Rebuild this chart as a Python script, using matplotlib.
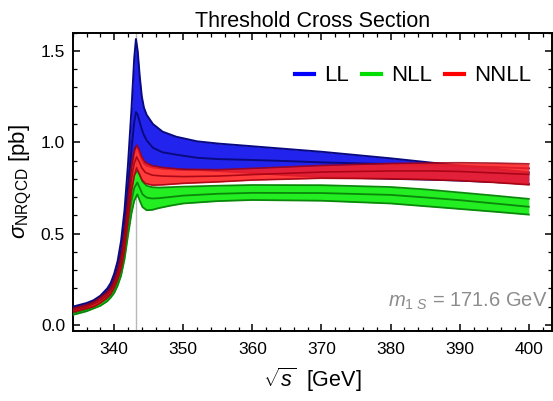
import matplotlib
matplotlib.use("Agg")
import matplotlib.pyplot as plt
from matplotlib.ticker import MultipleLocator, FormatStrFormatter

plt.rcParams['font.family'] = ['Liberation Sans', 'DejaVu Sans']
plt.rcParams['mathtext.fontset'] = 'custom'
plt.rcParams['mathtext.rm'] = 'Liberation Sans'
plt.rcParams['mathtext.it'] = 'Liberation Sans:italic'
plt.rcParams['mathtext.sf'] = 'Liberation Sans'

# ---------------- data ----------------
ll_x = [334, 335, 336, 337, 338, 339, 339.5, 340, 340.5, 341, 341.5, 342, 342.5, 342.9,
        343.15, 343.4, 343.7, 344.0, 344.3, 344.7, 345.6, 347, 349, 352, 355, 360, 365,
        370, 375, 380, 386, 390, 395, 400]
ll_upper = [0.10, 0.11, 0.12, 0.135, 0.16, 0.20, 0.23, 0.28, 0.35, 0.46, 0.63, 0.88, 1.18, 1.46,
            1.565, 1.50, 1.36, 1.25, 1.19, 1.15, 1.10, 1.058, 1.03, 1.005, 0.993, 0.978, 0.963,
            0.948, 0.930, 0.912, 0.888, 0.873, 0.855, 0.835]
ll_center = [0.09, 0.10, 0.11, 0.125, 0.15, 0.185, 0.21, 0.25, 0.31, 0.40, 0.54, 0.75, 0.96, 1.11,
             1.165, 1.15, 1.11, 1.07, 1.04, 1.01, 0.97, 0.945, 0.932, 0.915, 0.908, 0.903, 0.897,
             0.890, 0.885, 0.880, 0.875, 0.870, 0.864, 0.857]
ll_lower = [0.085, 0.09, 0.10, 0.115, 0.14, 0.17, 0.195, 0.23, 0.28, 0.36, 0.48, 0.66, 0.84, 0.94,
            0.975, 0.97, 0.935, 0.905, 0.885, 0.872, 0.862, 0.855, 0.85, 0.848, 0.843, 0.832, 0.820,
            0.810, 0.805, 0.800, 0.795, 0.790, 0.782, 0.772]

nnll_x = [334, 335, 336, 337, 338, 339, 339.5, 340, 340.5, 341, 341.5, 342, 342.5, 342.9,
          343.25, 343.6, 344.0, 344.5, 345.5, 347, 350, 355, 360, 370, 380, 386, 390, 395, 400]
nnll_upper = [0.09, 0.10, 0.11, 0.125, 0.15, 0.18, 0.205, 0.245, 0.30, 0.38, 0.51, 0.69, 0.87, 0.955,
              0.985, 0.96, 0.92, 0.89, 0.872, 0.862, 0.852, 0.850, 0.857, 0.873, 0.884, 0.887, 0.888,
              0.886, 0.882]
nnll_center = [0.08, 0.09, 0.10, 0.115, 0.135, 0.165, 0.19, 0.225, 0.275, 0.345, 0.46, 0.63, 0.80, 0.885,
               0.92, 0.895, 0.86, 0.835, 0.82, 0.815, 0.812, 0.815, 0.823, 0.837, 0.843, 0.843, 0.840,
               0.832, 0.824]
nnll_lower = [0.07, 0.08, 0.09, 0.10, 0.12, 0.15, 0.17, 0.205, 0.25, 0.31, 0.41, 0.57, 0.73, 0.815,
              0.86, 0.83, 0.795, 0.775, 0.765, 0.767, 0.775, 0.783, 0.793, 0.803, 0.800, 0.795, 0.790,
              0.780, 0.767]

nll_x = [334, 335, 336, 337, 338, 339, 339.5, 340, 340.5, 341, 341.5, 342, 342.5, 342.9,
         343.35, 343.7, 344.1, 344.7, 345.5, 346.5, 348, 350, 355, 360, 370, 380, 385, 390, 395, 400]
nll_upper = [0.075, 0.085, 0.095, 0.11, 0.13, 0.16, 0.18, 0.215, 0.265, 0.33, 0.44, 0.60, 0.75, 0.82,
             0.845, 0.82, 0.785, 0.762, 0.754, 0.752, 0.754, 0.757, 0.762, 0.766, 0.765, 0.755, 0.742,
             0.725, 0.708, 0.690]
nll_center = [0.065, 0.075, 0.085, 0.10, 0.12, 0.145, 0.165, 0.195, 0.24, 0.30, 0.40, 0.545, 0.68, 0.75,
              0.78, 0.75, 0.715, 0.697, 0.692, 0.694, 0.70, 0.708, 0.718, 0.723, 0.722, 0.712, 0.698,
              0.683, 0.665, 0.647]
nll_lower = [0.055, 0.065, 0.075, 0.09, 0.105, 0.13, 0.15, 0.175, 0.215, 0.27, 0.36, 0.49, 0.61, 0.68,
             0.715, 0.68, 0.645, 0.628, 0.630, 0.640, 0.652, 0.665, 0.678, 0.684, 0.680, 0.665, 0.650,
             0.635, 0.620, 0.604]

legend_labels = ['LL', 'NLL', 'NNLL']
threshold_x = 343.2
mass_text = r'$m_{1\ S}$ = 171.6 GeV'

# ---------------- figure ----------------
fig = plt.figure(figsize=(5.53, 4.01), dpi=100)
ax = fig.add_axes([0.1315, 0.1746, 0.866, 0.744])

# LL (blue)
ax.fill_between(ll_x, ll_lower, ll_upper, color='#2323ee', lw=0, zorder=2)
for y in (ll_upper, ll_center, ll_lower):
    ax.plot(ll_x, y, color='#0a0a80', lw=1.4, zorder=3)

# NLL (green)
ax.fill_between(nll_x, nll_lower, nll_upper, color='#22ee22', lw=0, zorder=4)
for y in (nll_upper, nll_center, nll_lower):
    ax.plot(nll_x, y, color='#0b880b', lw=1.3, zorder=5)

# NNLL (red, translucent over blue)
ax.fill_between(nnll_x, nnll_lower, nnll_upper, color='#ff2020', alpha=0.88, lw=0, zorder=6)
for y in (nnll_upper, nnll_center, nnll_lower):
    ax.plot(nnll_x, y, color='#a00010', lw=1.2, alpha=0.85, zorder=7)

ax.axvline(threshold_x, color='#b8b8b8', lw=1.0, zorder=1)

ax.set_xlim(334, 403.3)
ax.set_ylim(-0.033, 1.6)

ax.xaxis.set_major_locator(MultipleLocator(10))
ax.xaxis.set_minor_locator(MultipleLocator(2))
ax.yaxis.set_major_locator(MultipleLocator(0.5))
ax.yaxis.set_minor_locator(MultipleLocator(0.1))
ax.yaxis.set_major_formatter(FormatStrFormatter('%.1f'))

ax.tick_params(which='both', direction='in', top=True, right=True, labelsize=12.5)
ax.tick_params(which='major', length=5, width=1.1)
ax.tick_params(which='minor', length=3, width=0.9)
ax.tick_params(axis='x', pad=8)
ax.tick_params(axis='y', pad=5.5)
for s in ax.spines.values():
    s.set_linewidth(1.4)

ax.set_title('Threshold Cross Section', fontsize=15.5, pad=4)
ax.set_xlabel(r'$\sqrt{s}$  [GeV]', fontsize=15.5, labelpad=6)
ax.set_ylabel(r'$\sigma_{\mathrm{NRQCD}}$ [pb]', fontsize=16, labelpad=5)

handles = [plt.Line2D([], [], color=c, lw=3) for c in ('#0000ff', '#00dd00', '#ff0000')]
ax.legend(handles, legend_labels, ncol=3, loc='center right', bbox_to_anchor=(0.99, 0.855),
          frameon=False, fontsize=16, handlelength=0.85, handletextpad=0.45, columnspacing=0.6,
          borderpad=0.2)

ax.text(0.992, 0.10, mass_text, transform=ax.transAxes, ha='right', va='center',
        fontsize=14.5, color='#8c8c8c')

fig.savefig('out.png', dpi=100)
